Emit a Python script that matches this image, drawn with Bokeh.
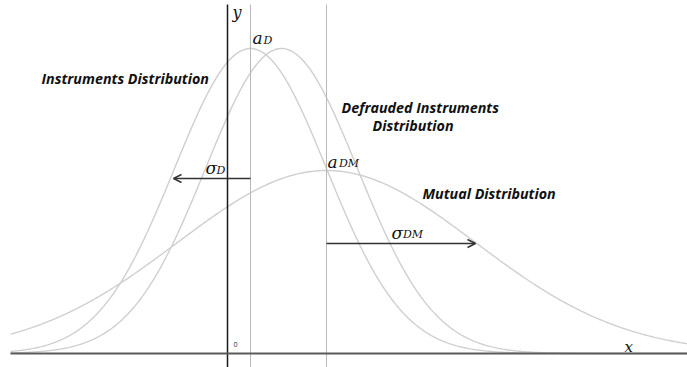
import numpy as np
from bokeh.plotting import figure
from bokeh.models import Range1d, Arrow, OpenHead
from bokeh.core.properties import value
from bokeh.embed import file_html
from bokeh.resources import INLINE

# Distribution parameters (1 unit = 100 px)
dist_names = ["Instruments Distribution", "Defrauded Instruments Distribution", "Mutual Distribution"]
dist_means = [0.23, 0.54, 0.99]
dist_sigmas = [0.76, 0.76, 1.49]
dist_peaks = [3.05, 3.05, 1.83]

# arrows marking sigma_D and sigma_DM
arrow_starts = [0.23, 0.99]
arrow_lengths = [-0.77, 1.49]
arrow_heights = [1.75, 1.10]

# vertical marker lines at a_D and a_DM
marker_x = [0.23, 0.99]

x_min, x_max = -2.17, 4.6
DY = 0.05  # text baseline correction

p = figure(width=687, height=367, output_backend="svg", toolbar_location=None,
           x_range=Range1d(-2.27, 4.60), y_range=Range1d(-0.14, 3.53),
           x_axis_type=None, y_axis_type=None, min_border=0,
           outline_line_color=None)
p.grid.visible = False

xs = np.linspace(x_min, x_max, 600)
for m, s, h in zip(dist_means, dist_sigmas, dist_peaks):
    ys = h * np.exp(-0.5 * ((xs - m) / s) ** 2)
    p.line(xs, ys, line_color="#cfcfcf", line_width=1.4)

for mx in marker_x:
    p.segment(x0=[mx], y0=[-0.2], x1=[mx], y1=[3.49], line_color="#b8b8b8", line_width=1)

# axes
p.segment(x0=[0], y0=[-0.2], x1=[0], y1=[3.49], line_color="#1a1a1a", line_width=1.5)
p.segment(x0=[x_min], y0=[0], x1=[x_max], y1=[0], line_color="#5a5a5a", line_width=2)

for xs0, ln, yh in zip(arrow_starts, arrow_lengths, arrow_heights):
    p.add_layout(Arrow(end=OpenHead(size=8, line_color="#333333", line_width=1.5),
                       x_start=xs0, y_start=yh, x_end=xs0 + ln, y_end=yh,
                       line_color="#333333", line_width=1.3))

serif = value("DejaVu Serif")
sans = value("Open Sans")

def mtext(x, y, t, size, font=serif, color="#111111", style="italic"):
    p.text(x=[x], y=[y + DY], text=[t], text_font=font, text_font_size=f"{size}px",
           text_font_style=style, text_color=color, text_baseline="alphabetic",
           text_align="left")

# math labels
mtext(0.05, 3.36, "y", 16)
mtext(0.25, 3.11, "a", 17)
mtext(0.36, 3.08, "D", 11)
mtext(-0.22, 1.81, "σ", 17)
mtext(-0.11, 1.78, "D", 11)
mtext(1.00, 1.87, "a", 17)
mtext(1.115, 1.85, "DM", 11)
mtext(1.64, 1.16, "σ", 17)
mtext(1.755, 1.14, "DM", 11)
mtext(3.97, 0.02, "x", 15)
mtext(0.06, 0.04, "0", 7, font=value("Open Sans"), color="#1a2a50", style="normal")

# descriptive labels
lab = dict(font=sans, color="#111111", style="bold italic")
mtext(-1.86, 2.70, "Instruments Distribution", 14.3, **lab)
mtext(1.14, 2.41, "Defrauded Instruments", 14.3, **lab)
mtext(1.45, 2.23, "Distribution", 14.3, **lab)
mtext(1.95, 1.55, "Mutual Distribution", 14.3, **lab)

open("out.html", "w").write(file_html(p, INLINE))
